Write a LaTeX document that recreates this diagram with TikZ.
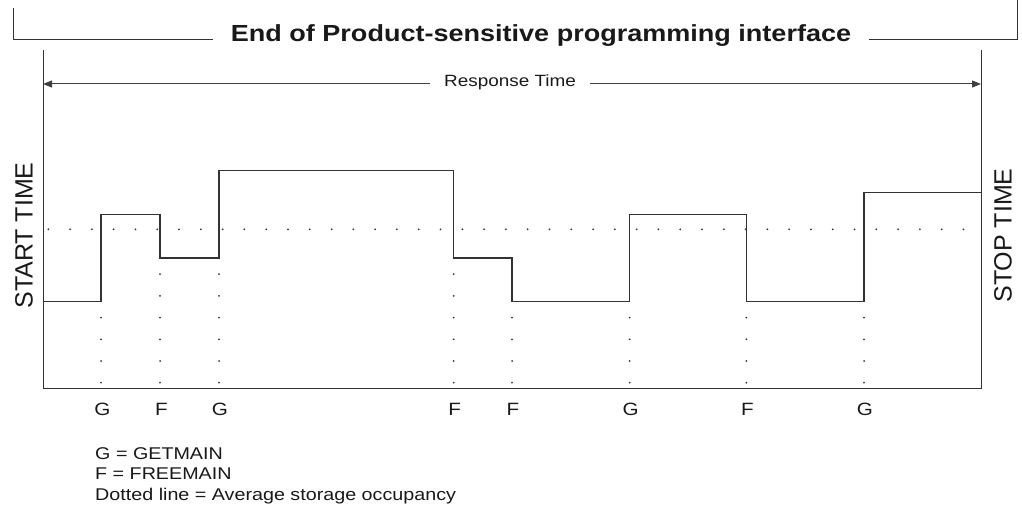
\documentclass[tikz,border=0pt]{standalone}
\usepackage{fontspec}
\setmainfont{Liberation Sans}
\newfontfamily\widesans[FakeStretch=1.16]{Liberation Sans}
\usetikzlibrary{arrows.meta}
\tikzset{
  ink/.style={draw=black!80, line width=1.1pt},
  rule/.style={draw=black!80, line width=1pt},
  dimline/.style={draw=black!75, line width=1pt, -{Triangle[length=9pt,width=7pt]}},
  tick/.style={text=black!90, font=\widesans\fontsize{17.8}{20}\selectfont, inner sep=0pt, anchor=base},
  legend/.style={text=black!90, font=\widesans\fontsize{17}{19}\selectfont, inner sep=0pt, anchor=base west},
  sidelabel/.style={text=black!90, font=\fontsize{25}{28}\selectfont, inner sep=0pt, rotate=90},
  dot/.style={fill=black!80}
}
\begin{document}
\begin{tikzpicture}[x=1pt, y=-1pt]
\useasboundingbox (0,0) rectangle (1022,510);

% banner with the section title
\node[text=black!90, font=\widesans\bfseries\fontsize{23.3}{26}\selectfont, inner ysep=0pt, inner xsep=17.5pt] (title) at (541,35.6) {End of Product-sensitive programming interface};
\coordinate (bl) at (13,40);
\coordinate (br) at (1017,40);
\draw[rule] (13,8) -- (bl) -- (bl -| title.west);
\draw[rule] (br -| title.east) -- (br) -- (1017,0);

% chart frame
\coordinate (tl) at (43,50);
\coordinate (ll) at (43,388);
\coordinate (lr) at (981,388);
\coordinate (tr) at (981,50);
\draw[rule] (tl) -- (ll) -- (lr) -- (tr);

% response time dimension
\node[text=black!90, font=\widesans\fontsize{16.3}{18}\selectfont, inner ysep=0pt, inner xsep=14pt] (resp) at (510,82) {Response Time};
\coordinate (al) at (43,84);
\coordinate (ar) at (981,84);
\draw[dimline] (resp.west |- al) -- (al);
\draw[dimline] (resp.east |- ar) -- (ar);

% side labels
\node[sidelabel] (start) at (24,235.5) {START TIME};
\node[sidelabel] (stop) at (1003,235.5) {STOP TIME};

% storage occupancy over time
\draw[ink] (43,301.7) -- (101,301.7) -- (101,214.3) -- (160,214.3) -- (160,258)
  -- (219,258) -- (219,170.7) -- (453.7,170.7) -- (453.7,258) -- (512,258)
  -- (512,301.7) -- (629.7,301.7) -- (629.7,214.3) -- (746.3,214.3)
  -- (746.3,301.7) -- (864,301.7) -- (864,192.7) -- (981,192.7);

% average occupancy (dotted)
\foreach \k in {0,...,42}
  \fill[dot] ({48.3+\k*21.79},229.3) circle (1pt);

% drop lines under each request
\foreach \xx in {160,219,453.7}
  \foreach \k in {0,...,5}
    \fill[dot] (\xx,{382.7-\k*21.7}) circle (1pt);
\foreach \xx in {101,512,629.7,746.3,864}
  \foreach \k in {0,...,3}
    \fill[dot] (\xx,{382.7-\k*21.7}) circle (1pt);

% request labels
\node[tick] (g1) at (102.5,415.5) {G};
\node[tick] (f1) at (161.5,415.5) {F};
\node[tick] (g2) at (220,415.5) {G};
\node[tick] (f2) at (454.7,415.5) {F};
\node[tick] (f3) at (513,415.5) {F};
\node[tick] (g3) at (630.7,415.5) {G};
\node[tick] (f4) at (747.3,415.5) {F};
\node[tick] (g4) at (865,415.5) {G};

% key
\node[legend] (keyg) at (95,459.3) {G = GETMAIN};
\node[legend] (keyf) at (95,479.5) {F = FREEMAIN};
\node[legend] (keyd) at (95,500) {Dotted line = Average storage occupancy};
\end{tikzpicture}
\end{document}
